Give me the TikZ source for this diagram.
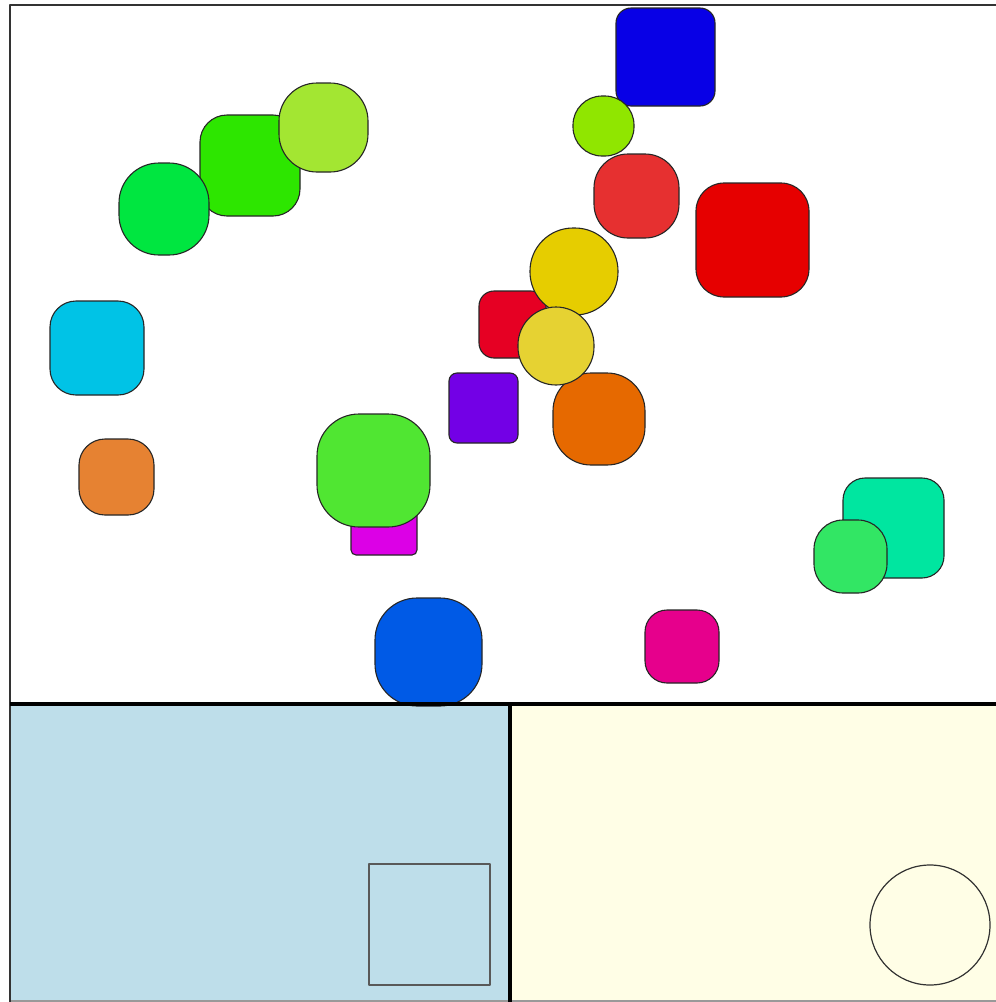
\documentclass[tikz,border=0pt]{standalone}
\usepackage{tikz}
\usetikzlibrary{calc}

\definecolor{panelblue}{RGB}{190,222,234}
\definecolor{panelcream}{RGB}{255,254,230}
\definecolor{cGreenA}{RGB}{0,230,64}
\definecolor{cGreenB}{RGB}{45,230,0}
\definecolor{cLime}{RGB}{163,230,50}
\definecolor{cBlue}{RGB}{8,0,230}
\definecolor{cLimeB}{RGB}{144,230,0}
\definecolor{cRedA}{RGB}{230,48,48}
\definecolor{cRedB}{RGB}{230,0,0}
\definecolor{cYellowA}{RGB}{230,205,0}
\definecolor{cRedC}{RGB}{230,0,35}
\definecolor{cYellowB}{RGB}{230,210,50}
\definecolor{cPurple}{RGB}{115,0,230}
\definecolor{cOrangeA}{RGB}{230,105,0}
\definecolor{cCyan}{RGB}{0,195,230}
\definecolor{cOrangeB}{RGB}{230,130,50}
\definecolor{cGreenC}{RGB}{80,230,50}
\definecolor{cMagenta}{RGB}{220,0,230}
\definecolor{cBlueB}{RGB}{0,90,230}
\definecolor{cTeal}{RGB}{0,230,160}
\definecolor{cGreenD}{RGB}{50,230,100}
\definecolor{cPink}{RGB}{230,0,140}

\tikzset{
  blob/.style={draw=black!85, line width=1.1pt},
  frameline/.style={draw=black!80, line width=2pt},
  divider/.style={draw=black, line width=4pt}
}

\begin{document}
\begin{tikzpicture}[x=1pt, y=-1pt, line join=round]

  \useasboundingbox (0,0) rectangle (996,1002);
  \fill[white] (0,0) rectangle (996,1002);

  %--------------------------
  % Bottom panels
  %--------------------------
  \fill[panelblue] (10,704) rectangle (510,1002);
  \fill[panelcream] (510,704) rectangle (996,1002);
  \draw[draw=black!40, line width=1.5pt] (10,1001) -- (996,1001);

  % Square marker
  \draw[draw=black!65, line width=2pt] (369,864) rectangle (490,985);
  % Circle marker
  \draw[draw=black!80, line width=1.2pt] (930,925) circle (60);

  %--------------------------
  % Shapes in the upper area
  %--------------------------
  % Green cluster
  \draw[blob, fill=cGreenB, rounded corners=27] (200,115) rectangle (300,216);
  \draw[blob, fill=cGreenA, rounded corners=40] (119,163) rectangle (209,255);
  \draw[blob, fill=cLime, rounded corners=38] (279,83) rectangle (368,172);

  % Column in the middle
  \draw[blob, fill=cBlue, rounded corners=15] (616,8) rectangle (715,106);
  \draw[blob, fill=cRedA, rounded corners=34] (594,154) rectangle (679,238);
  \draw[blob, fill=cLimeB, rounded corners=29] (573,96) rectangle (634,156);
  \draw[blob, fill=cRedB, rounded corners=28] (696,183) rectangle (809,297);
  \draw[blob, fill=cRedC, rounded corners=15] (479,291) rectangle (546,358);
  \draw[blob, fill=cYellowA, rounded corners=43] (530,228) rectangle (618,315);
  \draw[blob, fill=cOrangeA, rounded corners=38] (553,373) rectangle (645,465);
  \draw[blob, fill=cYellowB, rounded corners=38] (518,307) rectangle (594,385);
  \draw[blob, fill=cPurple, rounded corners=8] (449,373) rectangle (518,443);

  % Left side
  \draw[blob, fill=cCyan, rounded corners=26] (50,301) rectangle (144,395);
  \draw[blob, fill=cOrangeB, rounded corners=26] (79,439) rectangle (154,515);

  % Lower middle
  \draw[blob, fill=cMagenta, rounded corners=5] (351,488) rectangle (417,555);
  \draw[blob, fill=cGreenC, rounded corners=42] (317,414) rectangle (430,527);
  \draw[blob, fill=cBlueB, rounded corners=42] (375,598) rectangle (482,706);
  \draw[blob, fill=cPink, rounded corners=22] (645,610) rectangle (719,683);

  % Right side
  \draw[blob, fill=cTeal, rounded corners=22] (843,478) rectangle (944,578);
  \draw[blob, fill=cGreenD, rounded corners=29] (814,520) rectangle (887,593);

  %--------------------------
  % Frame and dividers
  %--------------------------
  \draw[frameline] (996,5) -- (10,5) -- (10,1002);
  \draw[divider] (10,704) -- (996,704);
  \draw[divider] (510,704) -- (510,1002);

\end{tikzpicture}
\end{document}
